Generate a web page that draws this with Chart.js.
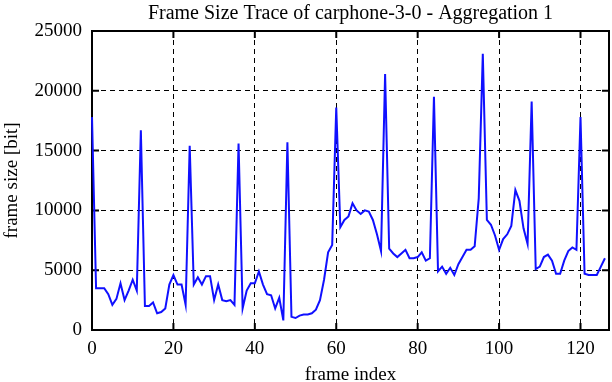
<!DOCTYPE html>
<html>
<head>
  <meta charset="UTF-8">
  <title>Frame Size Trace</title>
  <script src="https://cdn.jsdelivr.net/npm/chart.js"></script>
  <style>
    body { margin: 0; background: #fff; }
  </style>
</head>
<body>
  <canvas id="chart" width="612" height="382"></canvas>

  <script>
    // frame size [bit] per frame index 0..126
    const frameSizes = [
      17800, 3500, 3500, 3500, 3000, 2100, 2600, 3900, 2500, 3300, 4200, 3300,
      16700, 2000, 2000, 2300, 1400, 1500, 1800, 3800, 4600, 3800, 3800, 2100,
      15400, 3800, 4400, 3800, 4500, 4500, 2500, 3800, 2500, 2400, 2500, 2100,
      15600, 1800, 3300, 3900, 3900, 4900, 3800, 3000, 2900, 1800, 2700, 800,
      15700, 1100, 1000, 1200, 1300, 1300, 1400, 1700, 2500, 4200, 6500, 7100,
      18600, 8600, 9200, 9500, 10600, 10000, 9700, 10000, 9900, 9200, 8000, 6600,
      21400, 6800, 6400, 6100, 6400, 6700, 6000, 6000, 6100, 6500, 5800, 6000,
      19500, 4900, 5300, 4700, 5200, 4600, 5500, 6100, 6700, 6700, 7000, 11000,
      23100, 9200, 8800, 7900, 6700, 7600, 8000, 8700, 11700, 10800, 8500, 7200,
      19100, 5100, 5300, 6100, 6300, 5800, 4700, 4700, 5800, 6600, 6900, 6700,
      17800, 4700, 4600, 4600, 4600, 5300, 6000
    ];
    const xTickValues = [0, 20, 40, 60, 80, 100, 120];
    const yTickValues = [0, 5000, 10000, 15000, 20000, 25000];

    const serif = { family: '"Liberation Serif", "Times New Roman", serif', size: 19, weight: 'normal', lineHeight: 1 };

    // gnuplot-like box with ticks pointing inwards on all four sides
    const framePlugin = {
      id: 'frame',
      beforeDatasetsDraw(chart) {
        const { ctx, chartArea: a, scales: { x, y } } = chart;
        ctx.save();
        ctx.strokeStyle = '#000';
        ctx.lineWidth = 2;
        ctx.strokeRect(a.left, a.top, a.right - a.left, a.bottom - a.top);
        ctx.beginPath();
        xTickValues.forEach(v => {
          const px = x.getPixelForValue(v);
          ctx.moveTo(px, a.bottom); ctx.lineTo(px, a.bottom - 7);
          ctx.moveTo(px, a.top); ctx.lineTo(px, a.top + 7);
        });
        yTickValues.forEach(v => {
          const py = y.getPixelForValue(v);
          ctx.moveTo(a.left, py); ctx.lineTo(a.left + 7, py);
          ctx.moveTo(a.right, py); ctx.lineTo(a.right - 7, py);
        });
        ctx.stroke();
        ctx.restore();
      }
    };

    const points = frameSizes.map((v, i) => ({ x: i, y: v }));

    new Chart(document.getElementById('chart'), {
      type: 'line',
      data: {
        datasets: [{
          data: points,
          borderColor: 'rgb(16,16,255)',
          borderWidth: 2,
          pointRadius: 0,
          tension: 0,
          clip: 4
        }]
      },
      options: {
        responsive: false,
        animation: false,
        devicePixelRatio: 1,
        layout: { padding: { left: 0, right: 3, top: 0, bottom: 0 } },
        plugins: {
          legend: { display: false },
          tooltip: { enabled: false },
          title: {
            display: true,
            fullSize: false,
            text: 'Frame Size Trace of carphone-3-0 - Aggregation 1',
            color: '#000',
            font: { ...serif, size: 20 },
            padding: { top: 4, bottom: 7 }
          }
        },
        scales: {
          x: {
            type: 'linear',
            min: 0,
            max: 127,
            afterBuildTicks: s => { s.ticks = xTickValues.map(v => ({ value: v })); },
            afterFit: s => { s.height = 52; },
            ticks: { color: '#000', font: serif, padding: 10, maxRotation: 0, autoSkip: false },
            grid: { color: '#000', lineWidth: 1, drawTicks: false },
            border: { display: false, dash: [5, 4] },
            title: { display: true, text: 'frame index', color: '#000', font: serif, padding: { top: 0, bottom: -3 } }
          },
          y: {
            min: 0,
            max: 25000,
            afterBuildTicks: s => { s.ticks = yTickValues.map(v => ({ value: v })); },
            afterFit: s => { s.width = 92; },
            ticks: { color: '#000', font: serif, padding: 10, callback: v => String(v) },
            grid: { color: '#000', lineWidth: 1, drawTicks: false },
            border: { display: false, dash: [5, 4] },
            title: { display: true, text: 'frame size [bit]', color: '#000', font: serif, padding: { top: 3, bottom: 0 } }
          }
        }
      },
      plugins: [framePlugin]
    });
  </script>
</body>
</html>
